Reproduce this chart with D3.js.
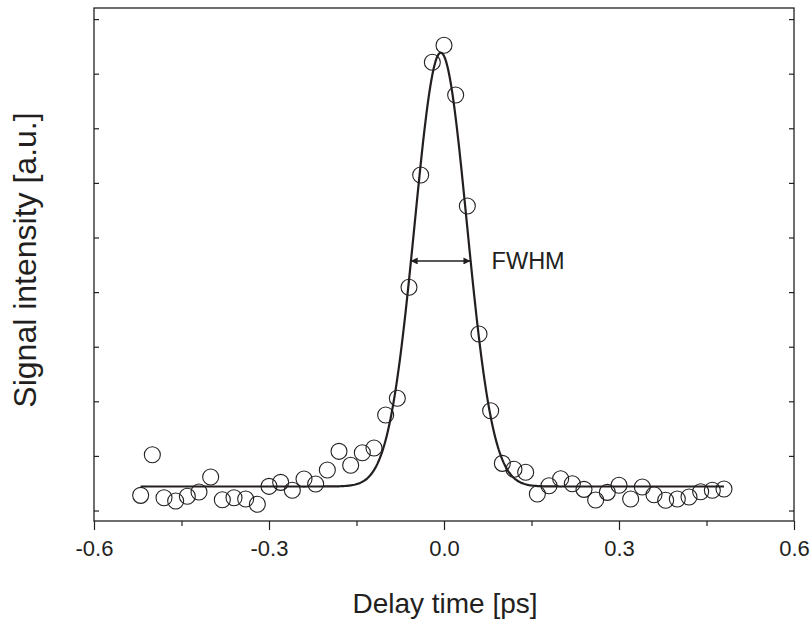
<!DOCTYPE html>
<html><head><meta charset="utf-8">
<script src="https://cdn.jsdelivr.net/npm/d3@7"></script>
<style>
html,body{margin:0;padding:0;background:#fff;}
svg{display:block;font-family:"Liberation Sans",Arial,Helvetica,sans-serif;}
</style></head>
<body>
<svg id="chart" width="811" height="621"></svg>
<script>
// Data (delay time in ps, intensity in arbitrary units)
const delays = [-0.52,-0.50,-0.48,-0.46,-0.44,-0.42,-0.40,-0.38,-0.36,-0.34,-0.32,-0.30,-0.28,-0.26,-0.24,-0.22,-0.20,-0.18,-0.16,-0.14,-0.12,-0.10,-0.08,-0.06,-0.04,-0.02,0.00,0.02,0.04,0.06,0.08,0.10,0.12,0.14,0.16,0.18,0.20,0.22,0.24,0.26,0.28,0.30,0.32,0.34,0.36,0.38,0.40,0.42,0.44,0.46,0.48];
const intensity = [0.278,1.022,0.234,0.174,0.260,0.339,0.614,0.198,0.234,0.211,0.114,0.443,0.516,0.370,0.577,0.485,0.742,1.084,0.828,1.059,1.145,1.749,2.055,4.088,6.145,8.209,8.520,7.610,5.577,3.233,1.828,0.864,0.755,0.700,0.302,0.454,0.582,0.491,0.388,0.192,0.333,0.462,0.211,0.430,0.289,0.187,0.211,0.247,0.344,0.370,0.394];
// Gaussian fit parameters: [baseline, amplitude, center, FWHM]
const fitParams = [0.44, 7.945, -0.0055, 0.1053];
const fitRange = [-0.52, 0.48];
const xTickLabels = ["-0.6","-0.3","0.0","0.3","0.6"];
const xTicks = [-0.6,-0.3,0.0,0.3,0.6];
const xMinorTicks = [-0.45,-0.15,0.15,0.45];
const yTicks = [0,1,2,3,4,5,6,7,8,9];
const fwhmArrow = [-0.0571, 0.0453, 4.57];
const fwhmLabel = ["FWHM", 0.0816, 4.42];

const svg = d3.select("#chart");
const L = 94, R = 794, T = 8, B = 521;
const x = d3.scaleLinear().domain([-0.6, 0.6]).range([L, R]);
const y = d3.scaleLinear().domain([-0.192, 9.203]).range([B, T]);
const ink = "#231f20";

// frame
svg.append("rect").attr("x", L).attr("y", T).attr("width", R - L).attr("height", B - T)
  .attr("fill", "none").attr("stroke", ink).attr("stroke-width", 1.3);

// bottom axis major
const xAxis = d3.axisBottom(x).tickValues(xTicks).tickSize(9).tickPadding(10)
  .tickFormat((d, i) => xTickLabels[i]);
const gx = svg.append("g").attr("transform", `translate(0,${B})`).call(xAxis);
gx.select(".domain").remove();
gx.selectAll("line").attr("stroke", ink).attr("stroke-width", 1.2);
gx.selectAll("text").attr("fill", ink).attr("font-size", 22)
  .attr("font-family", '"Liberation Sans",Arial,sans-serif');
// bottom axis minor
const gxm = svg.append("g").attr("transform", `translate(0,${B})`)
  .call(d3.axisBottom(x).tickValues(xMinorTicks).tickSize(5).tickFormat(""));
gxm.select(".domain").remove();
gxm.selectAll("line").attr("stroke", ink).attr("stroke-width", 1.2);

// left & right axis ticks (inward, no labels)
const gl = svg.append("g").attr("transform", `translate(${L},0)`)
  .call(d3.axisRight(y).tickValues(yTicks).tickSize(5).tickFormat(""));
gl.select(".domain").remove();
gl.selectAll("line").attr("stroke", ink).attr("stroke-width", 1.2);
const gr = svg.append("g").attr("transform", `translate(${R},0)`)
  .call(d3.axisLeft(y).tickValues(yTicks).tickSize(5).tickFormat(""));
gr.select(".domain").remove();
gr.selectAll("line").attr("stroke", ink).attr("stroke-width", 1.2);

// fit curve
const [base, amp, mu, fwhm] = fitParams;
const sigma = fwhm / (2 * Math.sqrt(2 * Math.LN2));
const curveX = d3.range(fitRange[0], fitRange[1] + 1e-9, 0.002);
const line = d3.line().x(d => x(d)).y(d => y(base + amp * Math.exp(-((d - mu) ** 2) / (2 * sigma * sigma))));
svg.append("path").datum(curveX).attr("d", line)
  .attr("fill", "none").attr("stroke", ink).attr("stroke-width", 2.2);

// data points
svg.append("g").selectAll("circle").data(delays).join("circle")
  .attr("cx", d => x(d)).attr("cy", (d, i) => y(intensity[i])).attr("r", 8)
  .attr("fill", "none").attr("stroke", ink).attr("stroke-width", 1.1);

// FWHM arrow
const defs = svg.append("defs");
defs.append("marker").attr("id", "ah").attr("viewBox", "0 0 10 10").attr("refX", 10).attr("refY", 5)
  .attr("markerWidth", 9).attr("markerHeight", 7).attr("markerUnits", "userSpaceOnUse")
  .attr("orient", "auto-start-reverse")
  .append("path").attr("d", "M0,0 L10,5 L0,10 Z").attr("fill", ink);
svg.append("line").attr("x1", x(fwhmArrow[0])).attr("x2", x(fwhmArrow[1]))
  .attr("y1", y(fwhmArrow[2])).attr("y2", y(fwhmArrow[2]))
  .attr("stroke", ink).attr("stroke-width", 1.4)
  .attr("marker-start", "url(#ah)").attr("marker-end", "url(#ah)");
svg.append("text").attr("x", x(fwhmLabel[1])).attr("y", y(fwhmLabel[2]))
  .attr("font-size", 23.5).attr("fill", ink).text(fwhmLabel[0]);

// axis titles
svg.append("text").attr("x", 445).attr("y", 613).attr("text-anchor", "middle")
  .attr("font-size", 28).attr("fill", ink).text("Delay time [ps]");
svg.append("text").attr("transform", "translate(36,260) rotate(-90)").attr("text-anchor", "middle")
  .attr("font-size", 32).attr("fill", ink).text("Signal intensity [a.u.]");
</script>
</body></html>
